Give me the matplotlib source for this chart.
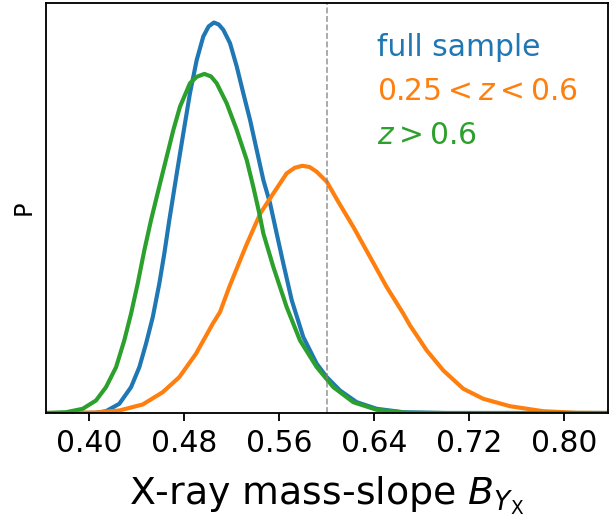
import matplotlib
matplotlib.use("Agg")
import matplotlib.pyplot as plt

# posterior of the X-ray mass slope (peak of full sample = 1)
full_x = [0.3636, 0.390, 0.4057, 0.4141, 0.4253, 0.4352, 0.4422, 0.4478, 0.4535, 0.4590,
          0.4632, 0.4674, 0.4737, 0.4792, 0.4848, 0.4905, 0.4960, 0.5005, 0.5050, 0.5090,
          0.5129, 0.5185, 0.5242, 0.5297, 0.5354, 0.5410, 0.5466, 0.5522, 0.5578, 0.5634,
          0.5705, 0.5802, 0.5915, 0.6000, 0.6111, 0.6252, 0.6420, 0.6644, 0.700, 0.8367]
full_p = [0.0, 0.0, 0.0005, 0.0046, 0.0236, 0.0662, 0.1175, 0.1775, 0.2458, 0.3315,
          0.4084, 0.4938, 0.6137, 0.7163, 0.8189, 0.9043, 0.9641, 0.990, 1.0, 0.995,
          0.9813, 0.9472, 0.8871, 0.8189, 0.7504, 0.6734, 0.5965, 0.5375, 0.4597, 0.3828,
          0.2886, 0.1945, 0.1262, 0.0918, 0.0577, 0.0277, 0.0108, 0.0020, 0.0, 0.0]

lowz_x = [0.3636, 0.3754, 0.4057, 0.4253, 0.4450, 0.4619, 0.4758, 0.4899, 0.5040, 0.5101,
          0.5179, 0.5213, 0.5322, 0.5440, 0.5550, 0.5662, 0.5730, 0.5794, 0.5855, 0.5915,
          0.6000, 0.6097, 0.6223, 0.6364, 0.6504, 0.6644, 0.6700, 0.6785, 0.6841, 0.6981,
          0.7149, 0.7317, 0.7542, 0.7822, 0.8104, 0.8384]
lowz_p = [0.0, 0.0, 0.0013, 0.0064, 0.0218, 0.0534, 0.0918, 0.1519, 0.2288, 0.2586,
          0.3227, 0.3484, 0.4297, 0.5110, 0.5623, 0.6137, 0.628, 0.6331, 0.630, 0.6178,
          0.5921, 0.5408, 0.4767, 0.3997, 0.3227, 0.2545, 0.2245, 0.1860, 0.1603, 0.1090,
          0.0621, 0.0364, 0.0174, 0.0046, 0.0005, 0.0]

highz_x = [0.3636, 0.3805, 0.3945, 0.4057, 0.4141, 0.4226, 0.4295, 0.4352, 0.4408, 0.4464,
           0.4520, 0.4596, 0.4652, 0.4708, 0.4764, 0.4848, 0.4905, 0.4969, 0.5025, 0.5073,
           0.5157, 0.5242, 0.5326, 0.5381, 0.5432, 0.5466, 0.5550, 0.5662, 0.5774, 0.5915,
           0.6055, 0.6223, 0.6420, 0.6673, 0.700, 0.8367]
highz_p = [0.0, 0.002, 0.0108, 0.0321, 0.0662, 0.1175, 0.1860, 0.2545, 0.3315, 0.4169,
           0.4938, 0.5880, 0.6562, 0.7247, 0.7845, 0.8445, 0.861, 0.8684, 0.862, 0.8445,
           0.7932, 0.7247, 0.6478, 0.5793, 0.5110, 0.4597, 0.3740, 0.2714, 0.1860, 0.1175,
           0.0662, 0.0277, 0.0082, 0.0005, 0.0, 0.0]

labels = ["full sample", r"$0.25 < z < 0.6$", r"$z > 0.6$"]
colors = ["#1f77b4", "#ff7f0e", "#2ca02c"]
ref_slope = 0.6
xticks = [0.40, 0.48, 0.56, 0.64, 0.72, 0.80]

dpi = 165
fig = plt.figure(figsize=(611 / dpi, 518 / dpi), dpi=dpi)
ax = fig.add_axes([0.0753, 0.2027, 0.9197, 0.7915])

for xs, ps, lab, c in zip([full_x, lowz_x, highz_x], [full_p, lowz_p, highz_p], labels, colors):
    ax.plot(xs, ps, color=c, lw=1.8, label=lab,
            solid_joinstyle="round", solid_capstyle="round")

ax.axvline(ref_slope, color="grey", ls="--", lw=0.7, alpha=0.8)

ax.set_xlim(0.3636, 0.8367)
ax.set_ylim(0, 1.05)
ax.set_xticks(xticks)
ax.set_xticklabels(["%.2f" % t for t in xticks])
ax.set_yticks([])
ax.tick_params(axis="x", labelsize=13, length=3.5)
ax.set_xlabel(r"X-ray mass-slope $B_{Y_{\rm X}}$", fontsize=16.5, labelpad=7)
ax.set_ylabel("P", fontsize=10.5, labelpad=4.5)

ax.legend(loc="upper right", frameon=False, fontsize=13, handlelength=0,
          handletextpad=0, labelcolor="linecolor", borderaxespad=0.6)

fig.savefig("out.png", dpi=dpi)
